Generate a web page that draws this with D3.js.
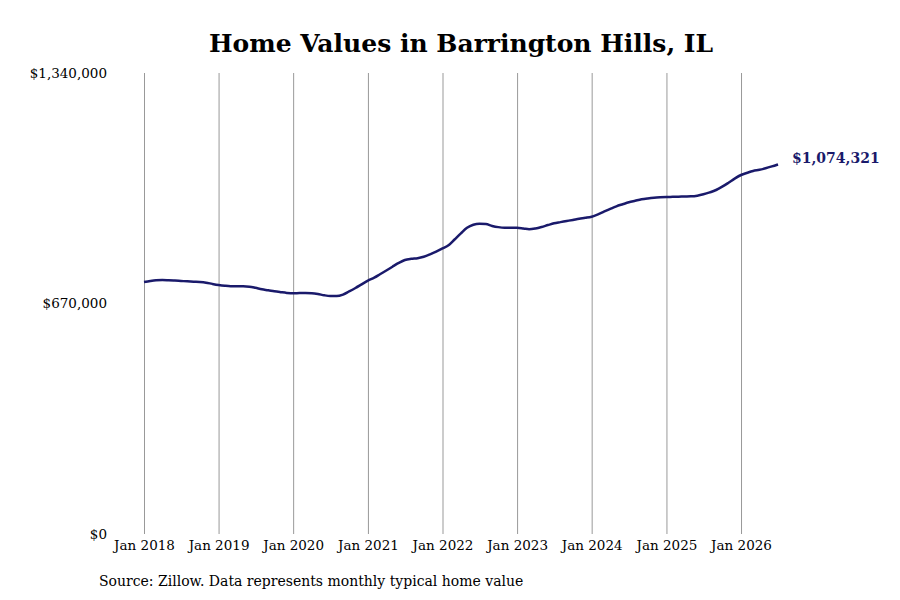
<!DOCTYPE html>
<html lang="en">
<head>
    <meta charset="UTF-8">
    <title>Home Values in Barrington Hills, IL</title>
    <script src="https://d3js.org/d3.v7.min.js"></script>
    <style>
        body { margin: 0; background: #fff; }
        svg text { font-family: "DejaVu Serif", serif; }
    </style>
</head>
<body>
<svg width="900" height="600"></svg>
<script>
    // monthly typical home value, Jan 2018 - Jul 2026
    const startMonth = '2018-01';
    const values2018 = [732500, 735500, 737400, 738000, 737400, 736500, 735400, 734500, 733400, 732500, 730500, 727000];
    const values2019 = [723800, 721500, 720200, 720000, 720200, 719000, 715500, 711300, 708500, 705500, 703000, 700800];
    const values2020 = [699600, 700500, 700800, 700000, 697600, 694000, 691800, 691500, 696000, 705000, 715000, 725500];
    const values2021 = [736300, 745000, 754900, 766000, 777000, 788000, 796500, 800000, 801800, 806000, 813000, 821000];
    const values2022 = [830000, 840000, 856000, 874000, 890000, 899000, 902000, 901000, 895500, 892000, 890300, 890500];
    const values2023 = [890300, 888000, 885600, 888000, 892400, 898000, 903100, 906500, 909800, 913000, 916500, 919000];
    const values2024 = [922300, 929000, 936800, 945000, 952500, 958500, 964100, 968500, 972800, 975500, 977600, 978800];
    const values2025 = [979600, 980000, 980500, 981000, 981500, 983500, 987400, 993000, 999900, 1009500, 1021100, 1033000];
    const values2026 = [1043500, 1050000, 1055100, 1058500, 1063000, 1068500, 1074321];
    const yTicks = [0, 670000, 1340000];
    const tickYears = [2018, 2019, 2020, 2021, 2022, 2023, 2024, 2025, 2026];

    const allValues = [].concat(values2018, values2019, values2020, values2021, values2022,
        values2023, values2024, values2025, values2026);
    const parseMonth = d3.timeParse('%Y-%m');
    const t0 = parseMonth(startMonth);
    const data = allValues.map((v, i) => ({ date: d3.timeMonth.offset(t0, i), value: v }));

    const svg = d3.select('svg');
    const margin = { top: 73, right: 122, bottom: 66, left: 144 };
    const width = 900 - margin.left - margin.right;
    const height = 600 - margin.top - margin.bottom;
    const g = svg.append('g').attr('transform', `translate(${margin.left},${margin.top})`);

    const x = d3.scaleTime().range([0, width]).domain(d3.extent(data, d => d.date));
    const y = d3.scaleLinear().range([height, 0]).domain([0, 1340000]);

    // title
    svg.append('text')
        .attr('x', 461).attr('y', 52)
        .attr('text-anchor', 'middle')
        .style('font-size', '25px').style('font-weight', 'bold')
        .text('Home Values in Barrington Hills, IL');

    // x axis with vertical gridlines
    const xAxis = g.append('g').attr('transform', `translate(0,${height})`)
        .call(d3.axisBottom(x)
            .tickValues(tickYears.map(yr => new Date(yr, 0, 1)))
            .tickFormat(d3.timeFormat('Jan %Y'))
            .tickSizeInner(-height).tickSizeOuter(0).tickPadding(6));
    xAxis.select('.domain').remove();
    xAxis.selectAll('line').attr('stroke', '#999').attr('stroke-width', 1);
    xAxis.selectAll('text').style('font-size', '13.5px').attr('fill', '#000');

    // y axis labels only
    const yAxis = g.append('g')
        .call(d3.axisLeft(y).tickValues(yTicks).tickFormat(d3.format('$,')).tickSize(0).tickPadding(37));
    yAxis.select('.domain').remove();
    yAxis.selectAll('text').style('font-size', '13.5px').attr('fill', '#000');

    // line
    const line = d3.line().x(d => x(d.date)).y(d => y(d.value)).curve(d3.curveMonotoneX);
    g.append('path').datum(data)
        .attr('fill', 'none')
        .attr('stroke', '#1a1a6b')
        .attr('stroke-width', 2.5)
        .attr('d', line);

    // last value label
    const last = data[data.length - 1];
    g.append('text')
        .attr('x', x(last.date) + 14).attr('y', y(last.value) - 6)
        .attr('dy', '0.35em')
        .attr('fill', '#1a1a6b')
        .style('font-size', '14px').style('font-weight', 'bold')
        .text(d3.format('$,')(last.value));

    // source note
    svg.append('text')
        .attr('x', 99).attr('y', 586)
        .style('font-size', '14px')
        .text('Source: Zillow. Data represents monthly typical home value');
</script>
</body>
</html>
